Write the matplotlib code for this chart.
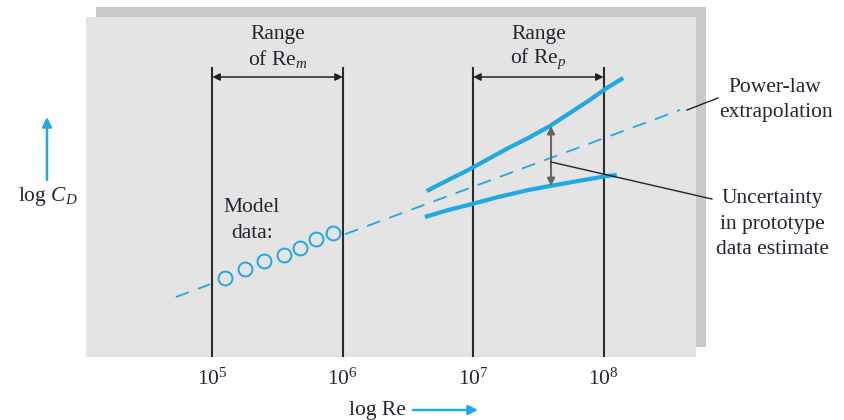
import numpy as np
import matplotlib
matplotlib.use("Agg")
import matplotlib.pyplot as plt
from matplotlib.patches import Rectangle

plt.rcParams['font.family'] = ['Liberation Serif', 'DejaVu Serif']
plt.rcParams['mathtext.fontset'] = 'custom'
plt.rcParams['mathtext.rm'] = 'Liberation Serif'
plt.rcParams['mathtext.it'] = 'Liberation Serif:italic'
plt.rcParams['lines.scale_dashes'] = False

BLUE = '#1fa8e4'
INK = '#2a2230'
FS = 15.5

# x in decades of Re, y in arbitrary log CD units
decades = [5, 6, 7, 8]
tick_labels = [r'$10^5$', r'$10^6$', r'$10^7$', r'$10^8$']

model_x = [5.097, 5.250, 5.396, 5.549, 5.672, 5.794, 5.925]
model_y = [0.79, 0.88, 0.96, 1.02, 1.09, 1.18, 1.24]

# power-law fit, drawn with a gap where the model circles sit
fit_x = [4.72, 8.586]
fit_y = [0.60, 2.47]
fit_gap = [4.982, 6.017]

upper_x = [6.643, 6.809, 6.962, 7.116, 7.270, 7.423, 7.589, 7.729, 7.883, 8.024, 8.151]
upper_y = [1.66, 1.77, 1.87, 1.98, 2.09, 2.19, 2.31, 2.43, 2.56, 2.69, 2.79]
lower_x = [6.630, 6.809, 6.962, 7.193, 7.423, 7.589, 7.806, 8.024, 8.101]
lower_y = [1.40, 1.47, 1.52, 1.60, 1.67, 1.71, 1.76, 1.81, 1.82]

unc_x = 7.597
unc_top, unc_bot, unc_mid = 2.31, 1.71, 1.95

fig = plt.figure(figsize=(8.44, 4.2), dpi=100)

# drop shadow behind the panel
fig.patches.append(Rectangle((96 / 844, 73 / 420), 610 / 844, 340 / 420,
                             transform=fig.transFigure, facecolor='#c9c9c9',
                             edgecolor='none', zorder=-1))

ax = fig.add_axes([86 / 844, 63 / 420, 610 / 844, 340 / 420])
ax.set_facecolor('#e4e4e4')
for s in ax.spines.values():
    s.set_visible(False)
ax.set_xlim(4.031, 8.709)
ax.set_ylim(0, 3.40)
ax.set_yticks([])
ax.set_xticks(decades)
ax.set_xticklabels(tick_labels, fontsize=FS, color=INK)
ax.tick_params(axis='x', length=0, pad=8)

ax.vlines(decades, 0, 2.90, color='#2b2b2b', lw=1.5, zorder=2)

# range arrows
for a, b, lbl in [(5, 6, r'of Re$_m$'), (7, 8, r'of Re$_p$')]:
    ax.annotate('', xy=(b, 2.80), xytext=(a, 2.80),
                arrowprops=dict(arrowstyle='<|-|>', color='#222', lw=1.1,
                                shrinkA=0, shrinkB=0, mutation_scale=11))
    ax.text((a + b) / 2, 3.22, 'Range', ha='center', va='center', fontsize=FS, color=INK)
    ax.text((a + b) / 2, 2.98, lbl, ha='center', va='center', fontsize=FS, color=INK)

# dashed extrapolation, interrupted by the model data
seg1 = [fit_x[0], fit_gap[0]]
seg2 = [fit_gap[1], fit_x[1]]
for seg in (seg1, seg2):
    ax.plot(seg, np.interp(seg, fit_x, fit_y), color=BLUE, lw=1.3, dashes=(10, 7), zorder=3)
ax.plot(model_x, model_y, 'o', ms=10, mfc='none', mec=BLUE, mew=1.4, zorder=4)
ax.plot(upper_x, upper_y, color=BLUE, lw=3, solid_capstyle='butt', zorder=4)
ax.plot(lower_x, lower_y, color=BLUE, lw=3, solid_capstyle='butt', zorder=4)

ax.text(5.304, 1.49, 'Model', ha='center', va='center', fontsize=FS, color=INK)
ax.text(5.304, 1.24, 'data:', ha='center', va='center', fontsize=FS, color=INK)

# uncertainty bar
ax.annotate('', xy=(unc_x, unc_top), xytext=(unc_x, unc_bot),
            arrowprops=dict(arrowstyle='<|-|>', color='#666', lw=1.5,
                            shrinkA=0, shrinkB=0, mutation_scale=11), zorder=5)

# leader lines to the notes on the right
ax.plot([unc_x, 8.831], [unc_mid, 1.58], color='#222', lw=1.0, clip_on=False, zorder=5)
ax.plot([8.64, 8.877], [2.47, 2.59], color='#222', lw=1.0, clip_on=False, zorder=5)

fig.text(775 / 844, 1 - 88 / 420, 'Power-law', ha='center', va='center', fontsize=FS, color=INK)
fig.text(776 / 844, 1 - 113 / 420, 'extrapolation', ha='center', va='center', fontsize=FS, color=INK)
fig.text(772 / 844, 1 - 199 / 420, 'Uncertainty', ha='center', va='center', fontsize=FS, color=INK)
fig.text(772 / 844, 1 - 225 / 420, 'in prototype', ha='center', va='center', fontsize=FS, color=INK)
fig.text(772 / 844, 1 - 250 / 420, 'data estimate', ha='center', va='center', fontsize=FS, color=INK)

# axis captions with arrows
fig.text(48 / 844, 1 - 197 / 420, r'log $C_D$', ha='center', va='center', fontsize=FS, color=INK)
ax.annotate('', xy=(47, 420 - 117), xytext=(47, 420 - 180), xycoords='figure pixels',
            arrowprops=dict(arrowstyle='-|>', color=BLUE, lw=1.8, shrinkA=0, shrinkB=0,
                            mutation_scale=14))
fig.text(377 / 844, 1 - 410 / 420, 'log Re', ha='center', va='center', fontsize=FS, color=INK)
ax.annotate('', xy=(478, 10), xytext=(413, 10), xycoords='figure pixels',
            arrowprops=dict(arrowstyle='-|>', color=BLUE, lw=1.8, shrinkA=0, shrinkB=0,
                            mutation_scale=14))

fig.savefig('out.png', dpi=100)
